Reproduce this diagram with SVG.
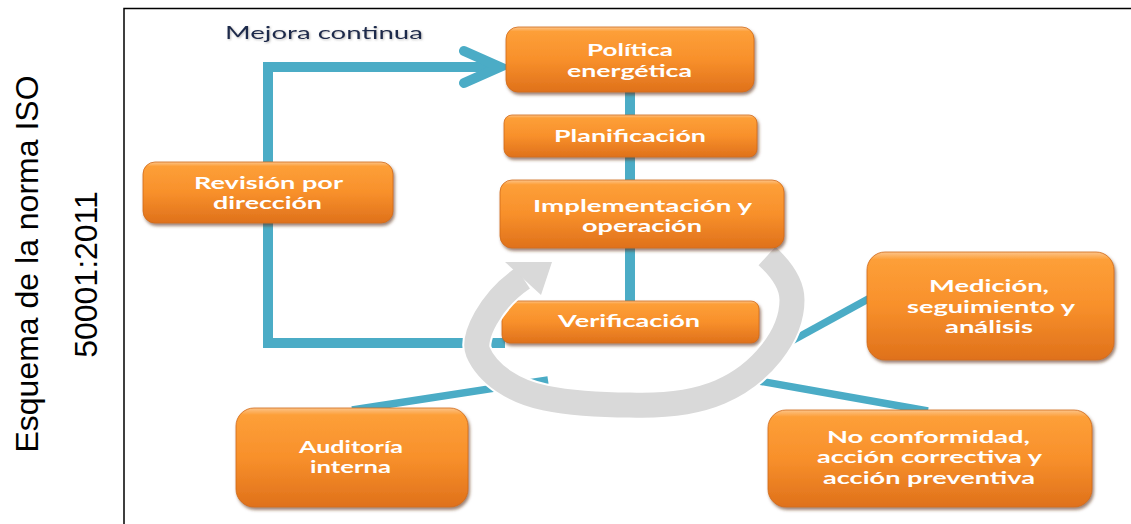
<svg xmlns="http://www.w3.org/2000/svg" width="1131" height="524" viewBox="0 0 1131 524">
  <style>
    .frame { fill: none; stroke: #000; stroke-width: 1.5; }
    .side { font-family: "Liberation Sans", Arial, sans-serif; font-size: 32px; fill: #000; }
    .box { fill: url(#orange); stroke: #d06a1a; stroke-width: 0.8; filter: url(#shadow); }
    .lbl { font-family: Lato, "Open Sans", "DejaVu Sans", sans-serif; font-weight: bold; font-size: 17px; fill: #fff; }
    .title { font-family: Lato, "Open Sans", "DejaVu Sans", sans-serif; font-size: 17px; fill: #1e2a4c; filter: url(#soft); }
    .link { fill: none; stroke: #4bacc6; stroke-width: 10; }
    .thin { fill: none; stroke: #4bacc6; stroke-width: 7.5; }
  </style>
  <defs>
    <linearGradient id="orange" x1="0" y1="0" x2="0" y2="1">
      <stop offset="0" stop-color="#fcc48a"/>
      <stop offset="0.07" stop-color="#fd9f38"/>
      <stop offset="0.5" stop-color="#f8902b"/>
      <stop offset="1" stop-color="#df711b"/>
    </linearGradient>
    <filter id="shadow" x="-10%" y="-15%" width="125%" height="145%">
      <feDropShadow dx="1.5" dy="2.5" stdDeviation="1.5" flood-color="#5a2e08" flood-opacity="0.6"/>
    </filter>
    <filter id="soft" x="-5%" y="-30%" width="110%" height="160%">
      <feDropShadow dx="1" dy="1" stdDeviation="0.8" flood-color="#7a7a7a" flood-opacity="0.5"/>
    </filter>
    <!-- centre line of the grey cycle band -->
    <path id="band" d="M 767 256 C 780 268 792 284 792 300 C 792 336 760 375 720 392 C 692 404 660 406 630 405 C 600 405 570 403 545 398 C 515 392 488 375 478 352 C 472 338 490 300 523 278"/>
  </defs>

  <!-- outer frame (continues past the right and bottom edges) -->
  <rect class="frame" x="124" y="8.5" width="1100" height="600"/>

  <!-- vertical caption -->
  <text class="side" text-anchor="middle" transform="translate(38,264) rotate(-90)">Esquema de la norma ISO</text>
  <text class="side" text-anchor="middle" transform="translate(97,274.5) rotate(-90)">50001:2011</text>

  <text class="title" x="225" y="39" textLength="198" lengthAdjust="spacingAndGlyphs">Mejora continua</text>

  <!-- connectors -->
  <g id="connectors">
    <polyline class="link" points="505,343 268,343 268,67 498,67"/>
    <polyline class="link" points="464,51 500,67 464,83" stroke-linejoin="miter" stroke-linecap="round" stroke-width="9"/>
    <line class="link" x1="630" y1="90" x2="630" y2="117"/>
    <line class="link" x1="630" y1="155" x2="630" y2="182"/>
    <line class="link" x1="630" y1="246" x2="630" y2="303"/>
    <line class="thin" x1="352" y1="410" x2="548" y2="380"/>
    <line class="thin" x1="742" y1="378" x2="928" y2="411"/>
    <line class="thin" x1="786" y1="344" x2="870" y2="298"/>
  </g>

  <g id="verificacion">
    <rect class="box" x="502" y="301" width="257" height="42" rx="8"/>
    <text class="lbl" x="558" y="327" textLength="142" lengthAdjust="spacingAndGlyphs">Verificación</text>
  </g>

  <!-- grey cycle arrow -->
  <g id="cycle">
    <use href="#band" fill="none" stroke="#fff" stroke-width="29"/>
    <polygon points="505,262 552,262 541,295" fill="#fff" stroke="#fff" stroke-width="4" stroke-linejoin="round"/>
    <use href="#band" fill="none" stroke="#d9d9d9" stroke-width="25"/>
    <polygon points="505,262 552,262 541,295" fill="#d9d9d9"/>
  </g>

  <g id="politica">
    <rect class="box" x="506" y="27" width="248" height="65" rx="12"/>
    <text class="lbl" x="587" y="56" textLength="86" lengthAdjust="spacingAndGlyphs">Política</text>
    <text class="lbl" x="567" y="77" textLength="125" lengthAdjust="spacingAndGlyphs">energética</text>
  </g>

  <g id="planificacion">
    <rect class="box" x="504" y="115" width="253" height="42" rx="8"/>
    <text class="lbl" x="554" y="142" textLength="152" lengthAdjust="spacingAndGlyphs">Planificación</text>
  </g>

  <g id="implementacion">
    <rect class="box" x="500" y="180" width="284" height="68" rx="12"/>
    <text class="lbl" x="533" y="212" textLength="219" lengthAdjust="spacingAndGlyphs">Implementación y</text>
    <text class="lbl" x="582" y="232" textLength="120" lengthAdjust="spacingAndGlyphs">operación</text>
  </g>

  <g id="revision">
    <rect class="box" x="143" y="162" width="250" height="61" rx="12"/>
    <text class="lbl" x="194" y="189" textLength="149" lengthAdjust="spacingAndGlyphs">Revisión por</text>
    <text class="lbl" x="213" y="209" textLength="109" lengthAdjust="spacingAndGlyphs">dirección</text>
  </g>

  <g id="medicion">
    <rect class="box" x="867" y="252" width="247" height="108" rx="18"/>
    <text class="lbl" x="929" y="292" textLength="120" lengthAdjust="spacingAndGlyphs">Medición,</text>
    <text class="lbl" x="907" y="313" textLength="168" lengthAdjust="spacingAndGlyphs">seguimiento y</text>
    <text class="lbl" x="945" y="333" textLength="88" lengthAdjust="spacingAndGlyphs">análisis</text>
  </g>

  <g id="auditoria">
    <rect class="box" x="236" y="408" width="232" height="99" rx="18"/>
    <text class="lbl" x="299" y="453" textLength="104" lengthAdjust="spacingAndGlyphs">Auditoría</text>
    <text class="lbl" x="310" y="473" textLength="81" lengthAdjust="spacingAndGlyphs">interna</text>
  </g>

  <g id="no-conformidad">
    <rect class="box" x="768" y="410" width="324" height="97" rx="18"/>
    <text class="lbl" x="827" y="443" textLength="203" lengthAdjust="spacingAndGlyphs">No conformidad,</text>
    <text class="lbl" x="817" y="463" textLength="225" lengthAdjust="spacingAndGlyphs">acción correctiva y</text>
    <text class="lbl" x="823" y="484" textLength="212" lengthAdjust="spacingAndGlyphs">acción preventiva</text>
  </g>
</svg>
